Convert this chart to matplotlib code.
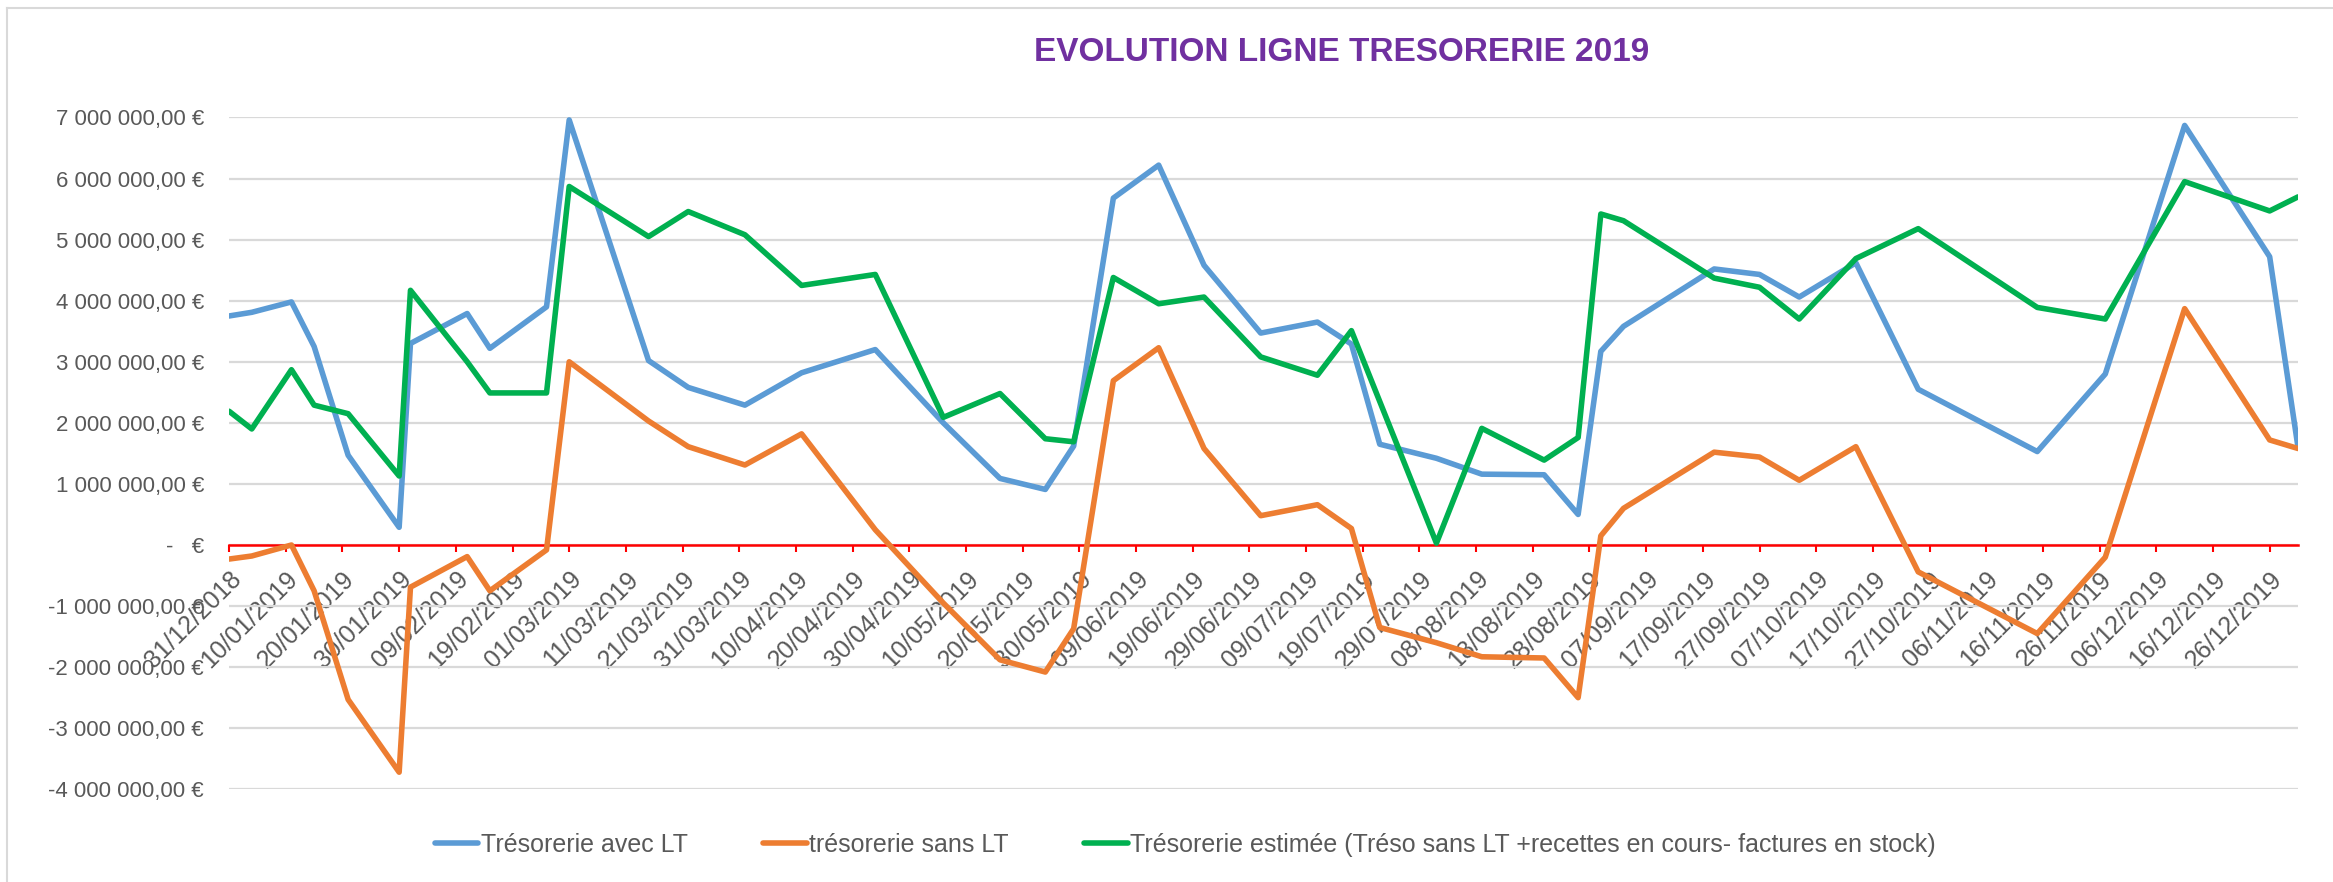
import matplotlib
matplotlib.use('Agg')
import matplotlib.pyplot as plt
from matplotlib.lines import Line2D
import pandas as pd

# data (values in euros, millions)
dates = ['31/12/2018', '04/01/2019', '11/01/2019', '15/01/2019', '21/01/2019', '30/01/2019',
         '01/02/2019', '11/02/2019', '15/02/2019', '25/02/2019', '01/03/2019', '15/03/2019',
         '22/03/2019', '01/04/2019', '11/04/2019', '24/04/2019', '06/05/2019', '16/05/2019',
         '24/05/2019', '29/05/2019', '05/06/2019', '13/06/2019', '21/06/2019', '01/07/2019',
         '11/07/2019', '17/07/2019', '22/07/2019', '01/08/2019', '09/08/2019', '20/08/2019',
         '26/08/2019', '30/08/2019', '03/09/2019', '19/09/2019', '27/09/2019', '04/10/2019',
         '14/10/2019', '25/10/2019', '15/11/2019', '27/11/2019', '11/12/2019', '26/12/2019',
         '31/12/2019']

treso_avec_lt = [3.75, 3.81, 3.98, 3.25, 1.47, 0.29, 3.30, 3.79, 3.22, 3.90, 6.96, 3.02,
                 2.58, 2.29, 2.82, 3.20, 2.00, 1.09, 0.91, 1.62, 5.68, 6.22, 4.58, 3.47,
                 3.65, 3.29, 1.65, 1.42, 1.16, 1.15, 0.50, 3.17, 3.58, 4.52, 4.43, 4.06,
                 4.62, 2.55, 1.53, 2.80, 6.87, 4.72, 1.60]

treso_sans_lt = [-0.23, -0.18, 0.00, -0.75, -2.53, -3.72, -0.69, -0.19, -0.75, -0.08, 3.00, 2.03,
                 1.61, 1.31, 1.82, 0.25, -0.95, -1.88, -2.08, -1.37, 2.69, 3.23, 1.58, 0.48,
                 0.66, 0.27, -1.35, -1.60, -1.83, -1.85, -2.50, 0.15, 0.60, 1.52, 1.44, 1.06,
                 1.61, -0.44, -1.45, -0.20, 3.87, 1.72, 1.58]

treso_estimee = [2.19, 1.90, 2.87, 2.29, 2.15, 1.13, 4.17, 3.00, 2.49, 2.49, 5.87, 5.05,
                 5.46, 5.08, 4.25, 4.43, 2.09, 2.48, 1.74, 1.69, 4.38, 3.95, 4.06, 3.08,
                 2.78, 3.51, 2.35, 0.03, 1.91, 1.39, 1.76, 5.42, 5.31, 4.37, 4.22, 3.70,
                 4.69, 5.18, 3.89, 3.70, 5.95, 5.47, 5.70]

series_names = ['Trésorerie avec LT', 'trésorerie sans LT',
                'Trésorerie estimée (Tréso sans LT +recettes en cours- factures en stock)']
series_colors = ['#5B9BD5', '#ED7D31', '#00B050']

y_ticks = [-4, -3, -2, -1, 0, 1, 2, 3, 4, 5, 6, 7]
title = 'EVOLUTION LIGNE TRESORERIE 2019'


def euro_label(v_million):
    v = v_million * 1e6
    if v == 0:
        return '-   €'
    s = f'{v:,.2f}'.replace(',', ' ').replace('.', ',')
    return s + ' €'


def main():
    plt.rcParams['font.family'] = ['Liberation Sans', 'DejaVu Sans']

    x = pd.to_datetime(dates, format='%d/%m/%Y')
    df = pd.DataFrame({'avec': treso_avec_lt, 'sans': treso_sans_lt, 'estimee': treso_estimee}, index=x)

    fig = plt.figure(figsize=(23.33, 8.82), dpi=100)
    ax = fig.add_axes([0.0982, 0.1051, 0.8868, 0.7617])

    for col, name, color in zip(df.columns, series_names, series_colors):
        ax.plot(df.index, df[col] * 1e6, color=color, lw=4.0, label=name,
                solid_joinstyle='round', solid_capstyle='round', zorder=3)

    ax.set_ylim(-4e6, 7e6)
    ax.set_yticks([t * 1e6 for t in y_ticks])
    ax.set_yticklabels([euro_label(t) for t in y_ticks])
    ax.grid(axis='y', color='#D9D9D9', lw=1.6)
    ax.set_axisbelow(True)

    start = pd.Timestamp('2018-12-31')
    ax.set_xlim(start, pd.Timestamp('2019-12-31'))
    xt = pd.date_range(start, '2019-12-26', freq='10D')
    ax.set_xticks(xt)
    ax.set_xticklabels([d.strftime('%d/%m/%Y') for d in xt])

    for side in ['top', 'right', 'left']:
        ax.spines[side].set_visible(False)
    ax.spines['bottom'].set_position(('data', 0))
    ax.spines['bottom'].set_color('#FF0000')
    ax.spines['bottom'].set_linewidth(1.8)
    ax.spines['bottom'].set_zorder(2)

    ax.tick_params(axis='x', colors='#FF0000', direction='out', length=5, width=1.5,
                   labelcolor='#595959', labelsize=18, pad=11)
    ax.tick_params(axis='y', length=0, labelcolor='#595959', labelsize=16, pad=18)
    plt.setp(ax.get_xticklabels(), rotation=45, ha='right', va='top', rotation_mode='anchor')

    fig.text(0.575, 0.941, title, ha='center', va='center', fontsize=24,
             fontweight='bold', color='#7030A0')

    fig.legend(loc='center', bbox_to_anchor=(0.508, 0.042), ncol=3, frameon=False,
               fontsize=18, handlelength=1.75, handletextpad=0.1, columnspacing=3.0,
               labelcolor='#595959')

    # chart border (left and top edges visible in the original)
    fig.add_artist(Line2D([0.003, 0.003], [0.0, 0.991], transform=fig.transFigure,
                          color='#D9D9D9', lw=1.5))
    fig.add_artist(Line2D([0.003, 1.0], [0.991, 0.991], transform=fig.transFigure,
                          color='#D9D9D9', lw=1.5))

    fig.savefig('out.png', dpi=100)


if __name__ == '__main__':
    main()
